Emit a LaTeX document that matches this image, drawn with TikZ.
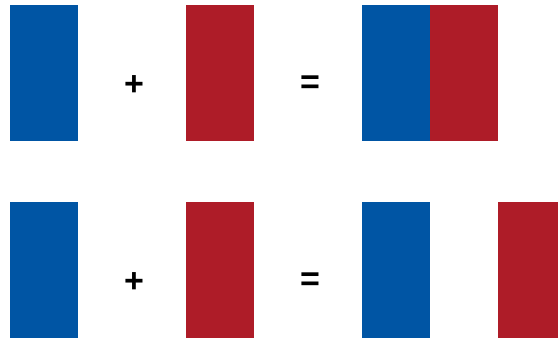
\documentclass[tikz,border=0pt]{standalone}
\usepackage{fontspec}
\setmainfont{Liberation Sans}
\definecolor{frblue}{HTML}{0055A4}
\definecolor{frred}{HTML}{AE1C28}
\begin{document}
\begin{tikzpicture}[x=1pt,y=-1pt,
  bar/.style={minimum width=68pt,minimum height=136pt,inner sep=0pt,outer sep=0pt,anchor=north west},
  bluebar/.style={bar,fill=frblue},
  redbar/.style={bar,fill=frred},
  op/.style={font=\bfseries\fontsize{34}{34}\selectfont,inner sep=0pt}]
\useasboundingbox (0,0) rectangle (558,339);
\node[bluebar] (b1) at (10,5) {};
\node[op] (p1) at (134,86) {+};
\node[redbar] (r1) at (186,5) {};
\node[op] (e1) at (310,85) {=};
\node[bluebar] (b2) at (362,5) {};
\node[redbar] (r2) at (430,5) {};
\node[bluebar] (b3) at (10,202) {};
\node[op] (p2) at (134,283) {+};
\node[redbar] (r3) at (186,202) {};
\node[op] (e2) at (310,282) {=};
\node[bluebar] (b4) at (362,202) {};
\node[redbar] (r4) at (498,202) {};
\end{tikzpicture}
\end{document}
